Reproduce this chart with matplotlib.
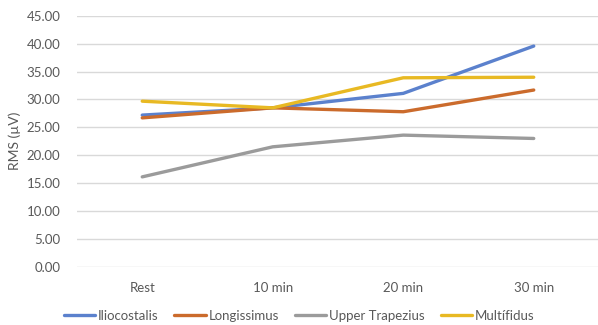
import matplotlib
matplotlib.use("Agg")
import matplotlib.pyplot as plt

# Time points and RMS values (µV) per muscle
timepoints = ["Rest", "10 min", "20 min", "30 min"]
iliocostalis = [27.2, 28.5, 31.1, 39.6]
longissimus = [26.7, 28.5, 27.8, 31.7]
upper_trapezius = [16.1, 21.5, 23.6, 23.0]
multifidus = [29.7, 28.5, 33.9, 34.0]

series = [
    ("Iliocostalis", iliocostalis, "#5B81CD"),
    ("Longissimus", longissimus, "#CB6B2C"),
    ("Upper Trapezius", upper_trapezius, "#9B9B9B"),
    ("Multífidus", multifidus, "#E8B923"),
]

plt.rcParams["font.family"] = ["Lato", "DejaVu Sans"]
text_color = "#595959"

fig = plt.figure(figsize=(5.98, 3.25), dpi=100)
ax = fig.add_axes([77 / 598, 1 - 266.5 / 325, 522 / 598, (266.5 - 16) / 325])

x = list(range(len(timepoints)))
for name, vals, color in series:
    ax.plot(x, vals, color=color, lw=2.4, label=name, solid_capstyle="round",
            solid_joinstyle="round")

ax.set_xlim(-0.5, len(timepoints) - 0.5)
ax.set_ylim(0, 45)
ax.set_yticks([i * 5 for i in range(10)])
ax.set_yticklabels([f"{i * 5:.2f}" for i in range(10)])
ax.set_xticks(x)
ax.set_xticklabels(timepoints)

ax.grid(axis="y", color="#D9D9D9", lw=1.0)
ax.set_axisbelow(True)
for s in ax.spines.values():
    s.set_visible(False)
ax.tick_params(axis="both", length=0, colors=text_color, labelsize=9.5)
ax.tick_params(axis="x", pad=11)
ax.tick_params(axis="y", pad=12)

ax.set_ylabel("RMS (µV)", color=text_color, fontsize=10, labelpad=4)

leg = fig.legend(loc="center", bbox_to_anchor=(0.5, 1 - 316 / 325), ncol=4,
                 frameon=False, fontsize=9.5, handlelength=2.4, handletextpad=0.2,
                 columnspacing=1.2)
for t in leg.get_texts():
    t.set_color(text_color)

fig.savefig("out.png", dpi=100)
